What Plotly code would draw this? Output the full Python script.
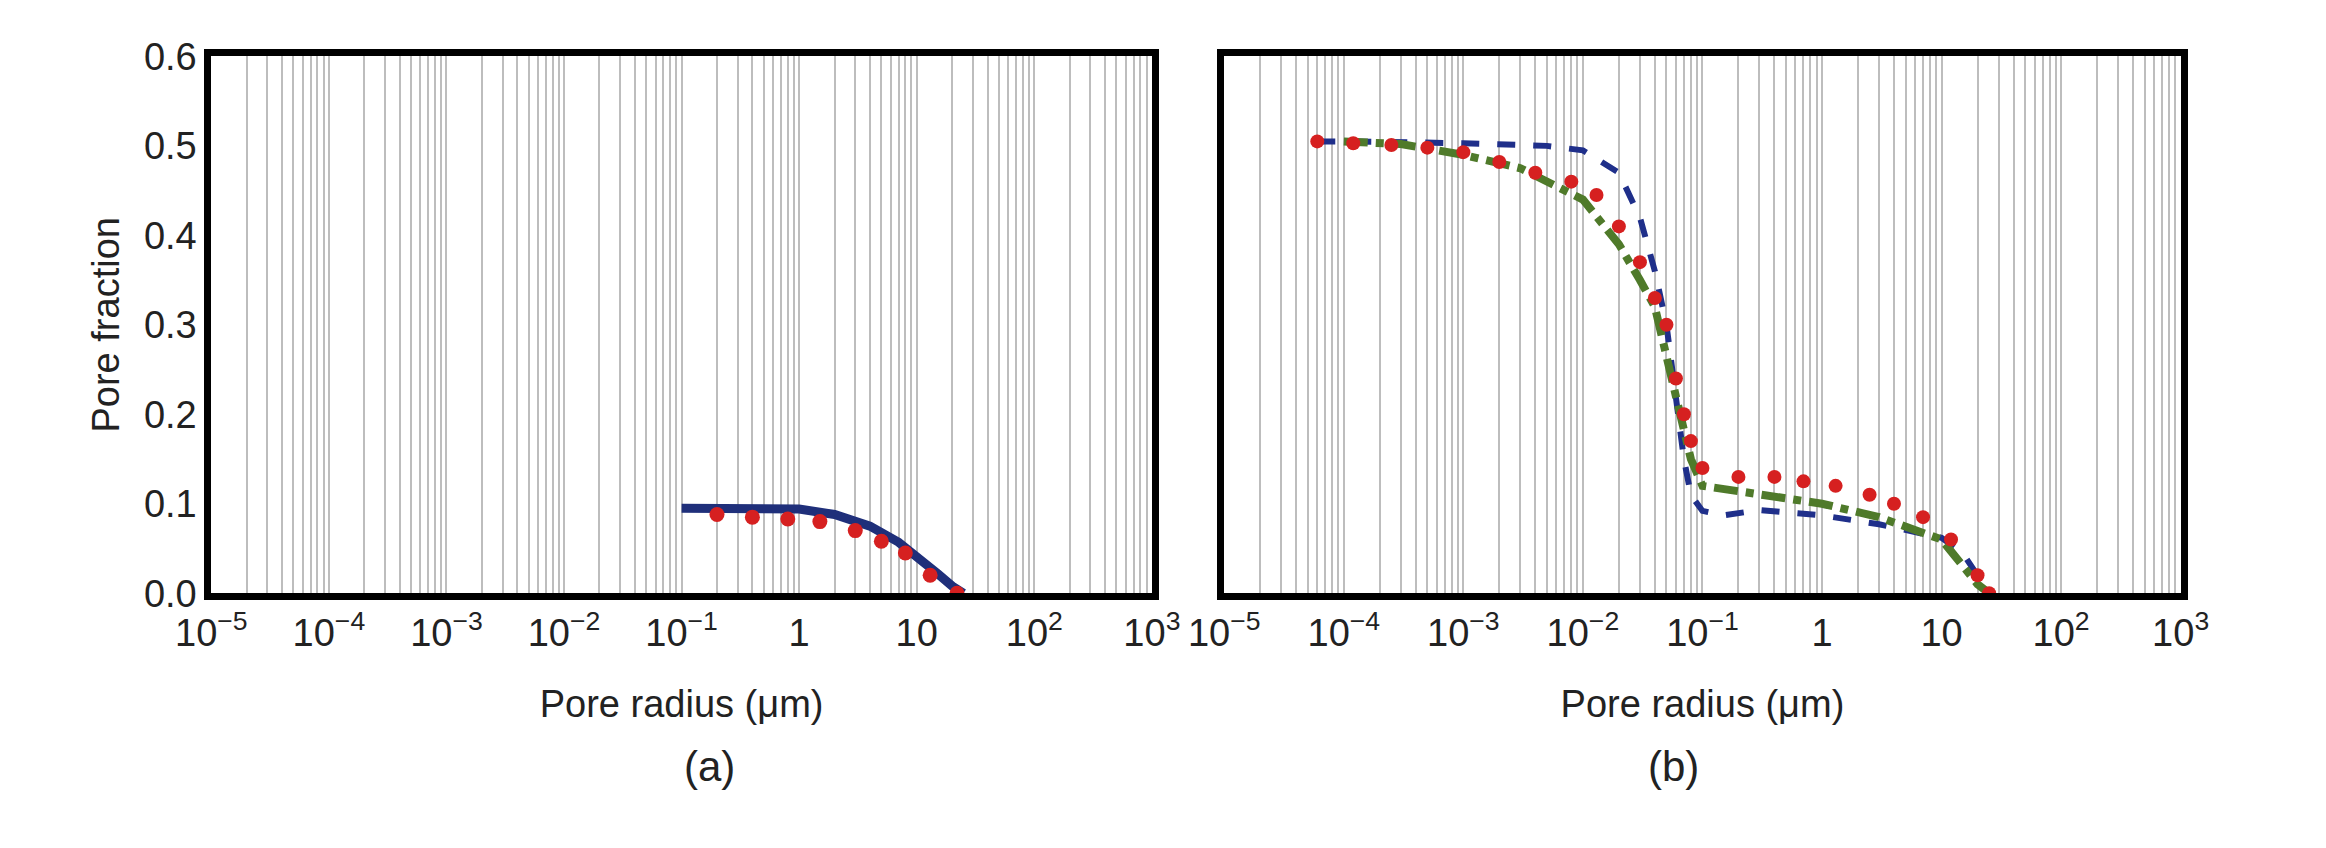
import plotly.graph_objects as go
from plotly.subplots import make_subplots

# panel (a)
a_line_x = [0.1, 0.3, 1, 2, 4, 7, 10, 15, 20, 25]
a_line_y = [0.095, 0.095, 0.094, 0.088, 0.075, 0.057, 0.042, 0.022, 0.008, 0.0]
a_dots_x = [0.2, 0.4, 0.8, 1.5, 3, 5, 8, 13, 22]
a_dots_y = [0.088, 0.085, 0.083, 0.08, 0.07, 0.058, 0.045, 0.02, 0.0]

# panel (b)
b_blue_x = [6e-5, 1e-4, 1e-3, 5e-3, 1e-2, 2e-2, 3e-2, 4e-2, 5e-2, 6e-2, 7e-2, 8e-2, 0.1, 0.15, 0.3, 1, 3, 10, 15, 20, 25]
b_blue_y = [0.505, 0.505, 0.503, 0.5, 0.495, 0.47, 0.42, 0.36, 0.3, 0.22, 0.15, 0.11, 0.092, 0.087, 0.093, 0.087, 0.077, 0.062, 0.045, 0.02, 0.0]
b_red_x = [6e-5, 1.2e-4, 2.5e-4, 5e-4, 1e-3, 2e-3, 4e-3, 8e-3, 1.3e-2, 2e-2, 3e-2, 4e-2, 5e-2, 6e-2, 7e-2, 8e-2, 0.1, 0.2, 0.4, 0.7, 1.3, 2.5, 4, 7, 12, 20, 25]
b_red_y = [0.505, 0.503, 0.501, 0.498, 0.493, 0.482, 0.47, 0.46, 0.445, 0.41, 0.37, 0.33, 0.3, 0.24, 0.2, 0.17, 0.14, 0.13, 0.13, 0.125, 0.12, 0.11, 0.1, 0.085, 0.06, 0.02, 0.0]
b_green_x = [1e-4, 3e-4, 1e-3, 3e-3, 1e-2, 2e-2, 3e-2, 4e-2, 6e-2, 8e-2, 0.1, 0.3, 1, 3, 10, 20, 25]
b_green_y = [0.505, 0.502, 0.49, 0.475, 0.44, 0.39, 0.35, 0.32, 0.22, 0.15, 0.12, 0.11, 0.1, 0.085, 0.06, 0.01, 0.0]

tick_vals = [1e-5, 1e-4, 1e-3, 1e-2, 1e-1, 1, 10, 100, 1000]
tick_text = ["10<sup>\u22125</sup>", "10<sup>\u22124</sup>", "10<sup>\u22123</sup>", "10<sup>\u22122</sup>",
             "10<sup>\u22121</sup>", "1", "10", "10<sup>2</sup>", "10<sup>3</sup>"]

fig = make_subplots(rows=1, cols=2, horizontal_spacing=0.03)

fig.add_trace(go.Scatter(x=a_line_x, y=a_line_y, mode="lines",
                         line=dict(color="#1f2f7a", width=9), showlegend=False), 1, 1)
fig.add_trace(go.Scatter(x=a_dots_x, y=a_dots_y, mode="markers",
                         marker=dict(color="#d62020", size=15), showlegend=False), 1, 1)

fig.add_trace(go.Scatter(x=b_blue_x, y=b_blue_y, mode="lines",
                         line=dict(color="#1f2f8a", width=6, dash="dash"), showlegend=False), 1, 2)
fig.add_trace(go.Scatter(x=b_green_x, y=b_green_y, mode="lines",
                         line=dict(color="#4f7a2a", width=8, dash="dashdot"), showlegend=False), 1, 2)
fig.add_trace(go.Scatter(x=b_red_x, y=b_red_y, mode="markers",
                         marker=dict(color="#d62020", size=14), showlegend=False), 1, 2)

xax = dict(type="log", range=[-5, 3], tickvals=tick_vals, ticktext=tick_text,
           showgrid=True, gridcolor="#bdbdbd", gridwidth=2,
           minor=dict(showgrid=True, gridcolor="#bdbdbd", gridwidth=2, dtick="D1"),
           showline=True, linecolor="black", linewidth=7, mirror=True,
           ticks="", tickfont=dict(size=38), zeroline=False,
           title=dict(text="Pore radius (\u03bcm)", font=dict(size=38), standoff=40))
yax = dict(range=[0, 0.6], dtick=0.1, tickformat=".1f", showgrid=False, zeroline=False,
           showline=True, linecolor="black", linewidth=7, mirror=True, ticks="",
           tickfont=dict(size=38))

fig.update_xaxes(**xax)
fig.update_yaxes(**yax)
fig.update_xaxes(domain=[0.074, 0.49], row=1, col=1)
fig.update_xaxes(domain=[0.522, 0.945], row=1, col=2)
fig.update_yaxes(domain=[0.30, 0.966])
fig.update_yaxes(title=dict(text="Pore fraction", font=dict(size=38), standoff=15), row=1, col=1)
fig.update_yaxes(showticklabels=False, row=1, col=2)

fig.add_annotation(text="(a)", x=0.282, y=0.085, xref="paper", yref="paper",
                   showarrow=False, font=dict(size=42), yanchor="middle")
fig.add_annotation(text="(b)", x=0.733, y=0.085, xref="paper", yref="paper",
                   showarrow=False, font=dict(size=42), yanchor="middle")

fig.update_layout(width=2326, height=848, plot_bgcolor="white", paper_bgcolor="white",
                  font=dict(family="Liberation Sans, Arial", color="#222"),
                  margin=dict(l=0, r=0, t=0, b=0))

fig.write_html("out.html")
